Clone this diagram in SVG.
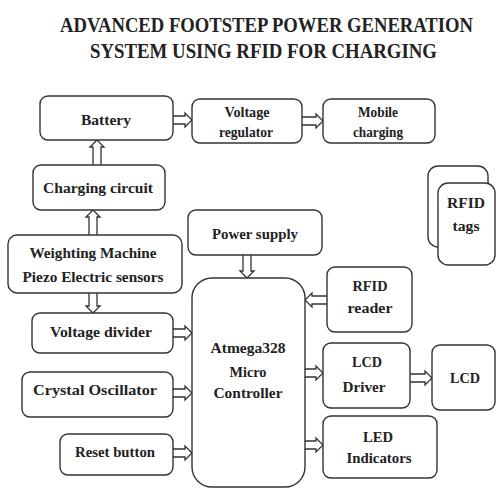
<svg xmlns="http://www.w3.org/2000/svg" width="497" height="489" viewBox="0 0 497 489">
<style>
.box{fill:#fff;stroke:#333;stroke-width:1.4}
.t{font-family:"Liberation Serif","Times New Roman",serif;font-weight:bold;font-size:15px;fill:#222;text-anchor:middle}
.title{font-family:"Liberation Serif","Times New Roman",serif;font-weight:bold;font-size:20px;fill:#222}
.ar{fill:#fff;stroke:#333;stroke-width:1.3;stroke-linejoin:miter}
</style>
<rect width="497" height="489" fill="#fff"/>
<g id="title">
<text class="title" x="60" y="32" textLength="413" lengthAdjust="spacingAndGlyphs">ADVANCED FOOTSTEP POWER GENERATION</text>
<text class="title" x="90" y="58" textLength="347" lengthAdjust="spacingAndGlyphs">SYSTEM USING RFID FOR CHARGING</text>
</g>
<g id="connectors">
<!-- Battery -> Voltage regulator -->
<path class="ar" d="M173,116 H185 V113 L192,120 L185,127 V124 H173"/>
<!-- VR -> Mobile -->
<path class="ar" d="M302,117 H316 V114 L323,121 L316,128 V125 H302"/>
<!-- Charging -> Battery (up) -->
<path class="ar" d="M93,165 V147 H90 L97,140 L104,147 H101 V165"/>
<!-- Weighting -> Charging (up) -->
<path class="ar" d="M89,235 V217 H86 L93,210 L100,217 H97 V235"/>
<!-- Weighting -> Voltage divider (down) -->
<path class="ar" d="M89,293 V306 H86 L93,313 L100,306 H97 V293"/>
<!-- Voltage divider -> Atmega -->
<path class="ar" d="M173,329 H185 V326 L192,333 L185,340 V337 H173"/>
<!-- Power supply -> Atmega (down) -->
<path class="ar" d="M243,255 V271 H240 L247,278 L254,271 H251 V255"/>
<!-- RFID reader -> Atmega (left) -->
<path class="ar" d="M327,296 H312 V293 L305,300 L312,307 V304 H327"/>
<!-- Atmega -> LCD Driver -->
<path class="ar" d="M305,369 H316 V366 L323,373 L316,380 V377 H305"/>
<!-- LCD Driver -> LCD -->
<path class="ar" d="M410,374 H425 V371 L432,378 L425,385 V382 H410"/>
<!-- Atmega -> LED -->
<path class="ar" d="M305,441 H316 V438 L323,445 L316,452 V449 H305"/>
<!-- Crystal -> Atmega -->
<path class="ar" d="M173,389 H185 V386 L192,393 L185,400 V397 H173"/>
<!-- Reset -> Atmega -->
<path class="ar" d="M173,449 H185 V446 L192,453 L185,460 V457 H173"/>
</g>
<g id="battery">
<rect class="box" x="40" y="96" width="133" height="44" rx="8"/>
<text class="t" x="106" y="125" textLength="50" lengthAdjust="spacingAndGlyphs">Battery</text>
</g>
<g id="voltage-regulator">
<rect class="box" x="192" y="99" width="110" height="44" rx="8"/>
<text class="t" x="247" y="117" textLength="45" lengthAdjust="spacingAndGlyphs">Voltage</text>
<text class="t" x="246" y="137" textLength="54" lengthAdjust="spacingAndGlyphs">regulator</text>
</g>
<g id="mobile-charging">
<rect class="box" x="323" y="99" width="112" height="44" rx="8"/>
<text class="t" x="378" y="117" textLength="40" lengthAdjust="spacingAndGlyphs">Mobile</text>
<text class="t" x="378" y="137" textLength="50" lengthAdjust="spacingAndGlyphs">charging</text>
</g>
<g id="charging-circuit">
<rect class="box" x="33" y="165" width="132" height="45" rx="8"/>
<text class="t" x="98" y="193" textLength="110" lengthAdjust="spacingAndGlyphs">Charging circuit</text>
</g>
<g id="rfid-tags">
<rect class="box" x="428" y="166" width="60" height="81" rx="10"/>
<rect class="box" x="438" y="183" width="57" height="82" rx="10"/>
<text class="t" x="466" y="208" textLength="38" lengthAdjust="spacingAndGlyphs">RFID</text>
<text class="t" x="466" y="231" textLength="27" lengthAdjust="spacingAndGlyphs">tags</text>
</g>
<g id="power-supply">
<rect class="box" x="188" y="210" width="134" height="45" rx="8"/>
<text class="t" x="255" y="239" textLength="86" lengthAdjust="spacingAndGlyphs">Power supply</text>
</g>
<g id="weighting-machine">
<rect class="box" x="8" y="235" width="174" height="58" rx="9"/>
<text class="t" x="93" y="258" textLength="127" lengthAdjust="spacingAndGlyphs">Weighting Machine</text>
<text class="t" x="93" y="282" textLength="141" lengthAdjust="spacingAndGlyphs">Piezo Electric sensors</text>
</g>
<g id="rfid-reader">
<rect class="box" x="327" y="267" width="85" height="65" rx="8"/>
<text class="t" x="370" y="291" textLength="35" lengthAdjust="spacingAndGlyphs">RFID</text>
<text class="t" x="370" y="313" textLength="45" lengthAdjust="spacingAndGlyphs">reader</text>
</g>
<g id="atmega328">
<rect class="box" x="192" y="278" width="113" height="209" rx="20"/>
<text class="t" x="248" y="353" textLength="75" lengthAdjust="spacingAndGlyphs">Atmega328</text>
<text class="t" x="248" y="377" textLength="37" lengthAdjust="spacingAndGlyphs">Micro</text>
<text class="t" x="248" y="398" textLength="69" lengthAdjust="spacingAndGlyphs">Controller</text>
</g>
<g id="voltage-divider">
<rect class="box" x="32" y="313" width="141" height="40" rx="8"/>
<text class="t" x="101" y="337" textLength="102" lengthAdjust="spacingAndGlyphs">Voltage divider</text>
</g>
<g id="lcd-driver">
<rect class="box" x="323" y="343" width="87" height="65" rx="8"/>
<text class="t" x="367" y="367" textLength="30" lengthAdjust="spacingAndGlyphs">LCD</text>
<text class="t" x="364" y="392" textLength="43" lengthAdjust="spacingAndGlyphs">Driver</text>
</g>
<g id="lcd">
<rect class="box" x="432" y="345" width="63" height="65" rx="8"/>
<text class="t" x="465" y="383" textLength="30" lengthAdjust="spacingAndGlyphs">LCD</text>
</g>
<g id="crystal-oscillator">
<rect class="box" x="22" y="372" width="151" height="45" rx="8"/>
<text class="t" x="95" y="395" textLength="124" lengthAdjust="spacingAndGlyphs">Crystal  Oscillator</text>
</g>
<g id="led-indicators">
<rect class="box" x="323" y="416" width="114" height="62" rx="8"/>
<text class="t" x="378" y="442" textLength="30" lengthAdjust="spacingAndGlyphs">LED</text>
<text class="t" x="379" y="463" textLength="65" lengthAdjust="spacingAndGlyphs">Indicators</text>
</g>
<g id="reset-button">
<rect class="box" x="60" y="434" width="113" height="41" rx="8"/>
<text class="t" x="115" y="457" textLength="80" lengthAdjust="spacingAndGlyphs">Reset button</text>
</g>
</svg>
